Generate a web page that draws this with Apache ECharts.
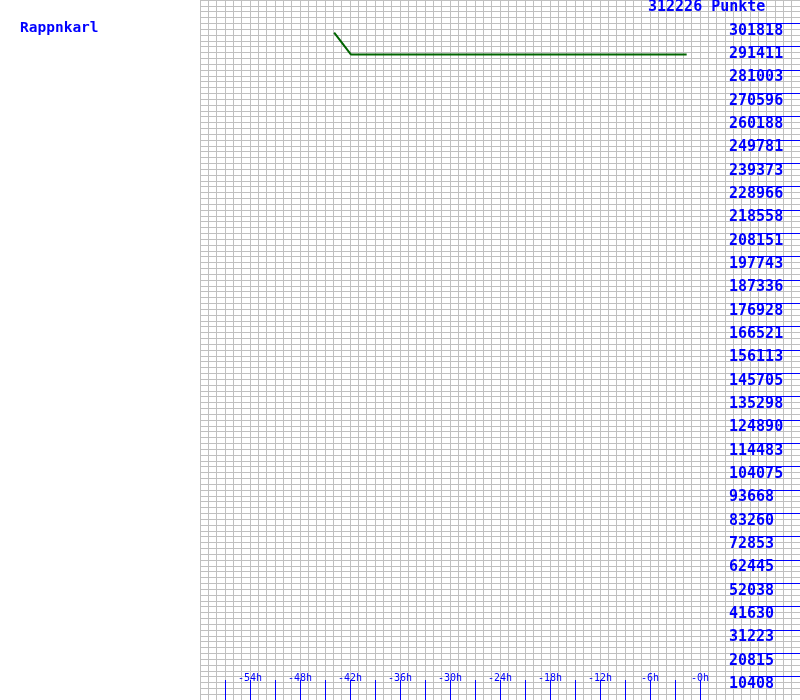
<!DOCTYPE html>
<html>
<head>
<meta charset="utf-8">
<script src="https://cdn.jsdelivr.net/npm/echarts@6/dist/echarts.min.js"></script>
<style>
html,body{margin:0;padding:0;background:#fff;}
#chart{width:800px;height:700px;}
</style>
</head>
<body>
<div id="chart"></div>
<script>
// ---- data ----
var playerName = 'Rappnkarl';
var topLabel = '312226 Punkte';
var yMax = 312226;
// time in hours relative to now, points
var timeHours = [-43.9, -41.9, -1.6];
var points = [297700, 287950, 287950];
// tick labels
var xTickMin = -57, xTickMax = 0, xTickStep = 3;
var xLabelValues = [-54, -48, -42, -36, -30, -24, -18, -12, -6, 0];
var xLabelTexts = ['-54h', '-48h', '-42h', '-36h', '-30h', '-24h', '-18h', '-12h', '-6h', '-0h'];
var yTickLabels = ['10408', '20815', '31223', '41630', '52038', '62445', '72853', '83260', '93668', '104075',
  '114483', '124890', '135298', '145705', '156113', '166521', '176928', '187336', '197743', '208151',
  '218558', '228966', '239373', '249781', '260188', '270596', '281003', '291411', '301818'];

var yStep = yMax / 30;
var seriesData = timeHours.map(function (t, i) { return [t, points[i]]; });

var blue = '#0000ff';
var mono = '"DejaVu Sans Mono", "Liberation Mono", monospace';
var edgePct = (100 / 30) + '%';

var chart = echarts.init(document.getElementById('chart'), null, { renderer: 'canvas' });
chart.setOption({
  animation: false,
  backgroundColor: '#ffffff',
  title: [
    { text: playerName, left: 20, top: 21, padding: 0,
      textStyle: { color: blue, fontFamily: mono, fontWeight: 'bold', fontSize: 14.5 } },
    { text: topLabel, left: 648, top: 0, padding: 0,
      textStyle: { color: blue, fontFamily: mono, fontWeight: 'bold', fontSize: 15 } }
  ],
  grid: [
    { left: 200, right: 0, top: 0, bottom: 0, containLabel: false },
    { left: 225, right: 100, top: 0, bottom: 0, containLabel: false },
    { left: 200, right: 0, top: edgePct, bottom: edgePct, containLabel: false }
  ],
  xAxis: [
    { type: 'value', gridIndex: 0, min: -60, max: 12, interval: 1,
      axisLine: { show: false, onZero: false }, axisTick: { show: false }, axisLabel: { show: false },
      splitLine: { show: true, lineStyle: { color: '#c0c0c0', width: 1 } } },
    { type: 'value', gridIndex: 1, min: xTickMin, max: xTickMax, interval: xTickStep, position: 'bottom',
      axisLine: { show: false, onZero: false, lineStyle: { color: blue } },
      splitLine: { show: false },
      axisTick: { show: true, inside: true, length: 20, lineStyle: { color: blue, width: 1 } },
      axisLabel: { show: true, inside: true, margin: 17, showMinLabel: true, showMaxLabel: true,
        color: blue, fontFamily: mono, fontSize: 10,
        formatter: function (v) { var i = xLabelValues.indexOf(Math.round(v)); return i >= 0 ? xLabelTexts[i] : ''; } } },
    { type: 'value', gridIndex: 2, show: false, min: 0, max: 1 }
  ],
  yAxis: [
    { type: 'value', gridIndex: 0, min: 0, max: yMax, interval: yMax / 120,
      axisLine: { show: false, onZero: false }, axisTick: { show: false }, axisLabel: { show: false },
      splitLine: { show: true, lineStyle: { color: '#c0c0c0', width: 1 } } },
    { type: 'value', gridIndex: 1, show: false, min: 0, max: 1 },
    { type: 'value', gridIndex: 2, min: yStep, max: yStep * 29, interval: yStep, position: 'right',
      axisLine: { show: false, onZero: false, lineStyle: { color: blue } },
      splitLine: { show: false },
      axisTick: { show: true, inside: true, length: 51, lineStyle: { color: blue, width: 1 } },
      axisLabel: { show: true, inside: true, margin: 71, align: 'left', verticalAlign: 'top',
        showMinLabel: true, showMaxLabel: true,
        color: blue, fontFamily: mono, fontWeight: 'bold', fontSize: 15,
        formatter: function (v) { var k = Math.round(v / yStep) - 1; return (k >= 0 && k < yTickLabels.length) ? yTickLabels[k] : ''; } } }
  ],
  series: [
    { type: 'line', xAxisIndex: 0, yAxisIndex: 0, data: seriesData,
      showSymbol: false, symbol: 'none',
      lineStyle: { color: '#006400', width: 2 } }
  ]
});
</script>
</body>
</html>
